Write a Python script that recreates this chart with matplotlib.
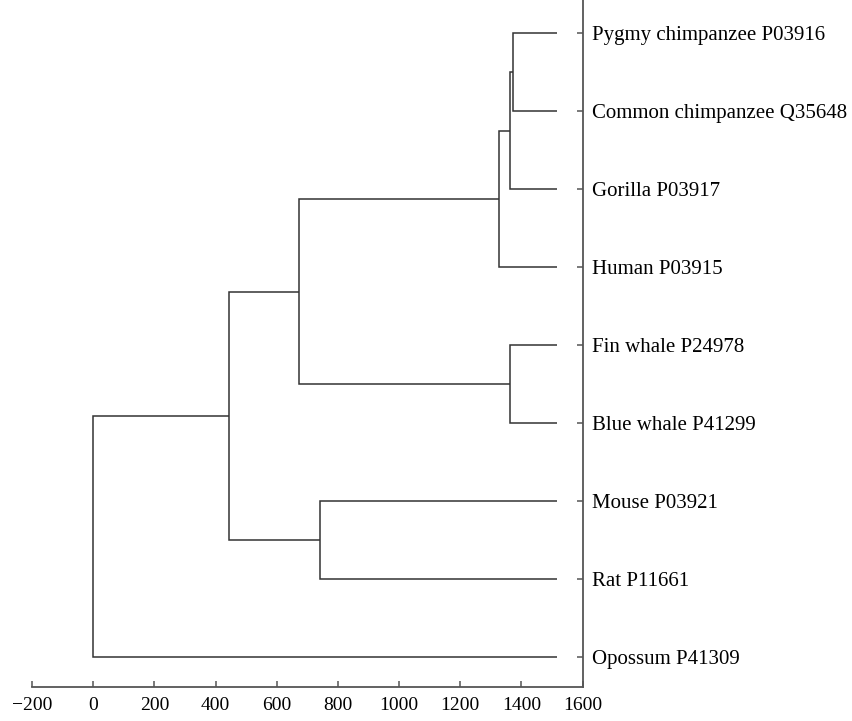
import matplotlib
matplotlib.use("Agg")
import matplotlib.pyplot as plt

# leaves, top to bottom
leaf_labels = ["Pygmy chimpanzee P03916", "Common chimpanzee Q35648", "Gorilla P03917",
               "Human P03915", "Fin whale P24978", "Blue whale P41299",
               "Mouse P03921", "Rat P11661", "Opossum P41309"]
leaf_tip = 1515

# merges: (child a, child b, x of the join); children are leaf indices or "n<k>" nodes
merge_a = [0, "n0", "n1", 4, "n2", 6, "n4", "n6"]
merge_b = [1, 2, 3, 5, "n3", 7, "n5", 8]
merge_x = [1373, 1361, 1328, 1363, 674, 741, 443, 0]

line_col = "#333333"
spine_col = "#555555"

fig = plt.figure(figsize=(8.53, 7.21), dpi=100)
ax = fig.add_axes([0.0375, 0.0467, 0.6456, 0.9533])

n = len(leaf_labels)
pos = {}
for i in range(n):
    pos[i] = (leaf_tip, n - 1 - i)

for k in range(len(merge_x)):
    xa, ya = pos[merge_a[k]]
    xb, yb = pos[merge_b[k]]
    xm = merge_x[k]
    ax.plot([xa, xm, xm, xb], [ya, ya, yb, yb], color=line_col, lw=1.1,
            solid_joinstyle="miter", solid_capstyle="butt")
    pos["n%d" % k] = (xm, (ya + yb) / 2)

ax.set_xlim(-200, 1600)
ax.set_ylim(-0.389, 8.427)
ax.set_xticks(range(-200, 1601, 200))
ax.set_xticklabels([str(v).replace("-", "\u2212") for v in range(-200, 1601, 200)])
ax.set_yticks([n - 1 - i for i in range(n)])
ax.set_yticklabels(leaf_labels)
ax.yaxis.tick_right()

for s in ["top", "left"]:
    ax.spines[s].set_visible(False)
for s in ["bottom", "right"]:
    ax.spines[s].set_color(spine_col)
    ax.spines[s].set_linewidth(1.3)

ax.tick_params(axis="both", direction="in", length=4.5, width=1.1, color=spine_col, pad=7)
ax.tick_params(axis="x", labelsize=14)
ax.tick_params(axis="y", labelsize=15)
for lab in ax.get_xticklabels() + ax.get_yticklabels():
    lab.set_fontfamily("Liberation Serif")

fig.savefig("out.png", dpi=100)
